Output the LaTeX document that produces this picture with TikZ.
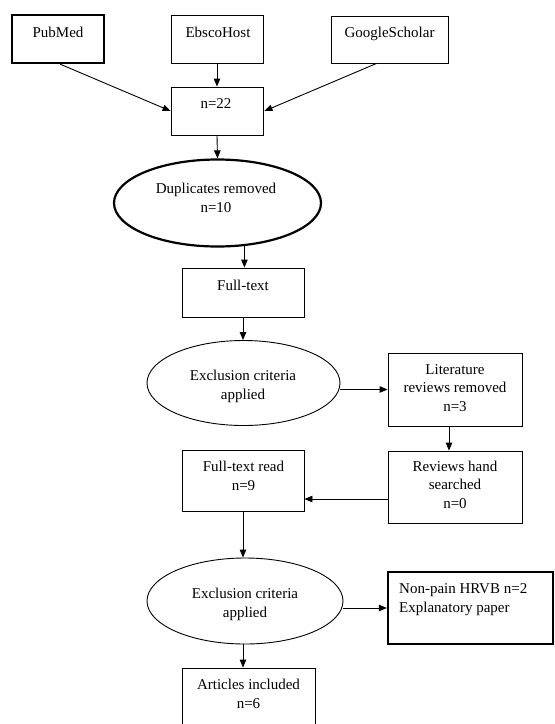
\documentclass[tikz,border=0pt]{standalone}
\usepackage{fontspec}
\setmainfont{Liberation Serif}
\usetikzlibrary{shapes.geometric,arrows.meta,calc}
\begin{document}
\begin{tikzpicture}[x=1pt,y=-1pt,
  every node/.style={font=\fontsize{15}{18.5}\selectfont},
  box/.style={draw=black,line width=0.9pt,rectangle,inner sep=0pt},
  thickbox/.style={box,line width=2.2pt},
  oval/.style={draw=black,line width=0.9pt,ellipse,inner sep=0pt},
  thickoval/.style={oval,line width=2.2pt},
  txt/.style={anchor=base,align=center,inner sep=0pt},
  arr/.style={line width=0.9pt,-{Triangle[length=8pt,width=6.5pt]}}]
\useasboundingbox (0,0) rectangle (555,724);
\clip (0,0) rectangle (555,724);
% boxes
\node[thickbox,minimum width=92pt,minimum height=48pt] (pm) at (58,39) {};
\node[box,minimum width=92pt,minimum height=48pt] (eb) at (217,39) {};
\node[box,minimum width=117pt,minimum height=47pt] (gs) at (389.5,39.5) {};
\node[box,minimum width=92pt,minimum height=48pt] (n22) at (217,111) {};
\node[thickoval,minimum width=207pt,minimum height=87pt] (dup) at (217.5,203) {};
\node[box,minimum width=122pt,minimum height=49pt] (ft) at (243,292.5) {};
\node[oval,minimum width=193pt,minimum height=85pt] (ex1) at (243.5,383) {};
\node[box,minimum width=134pt,minimum height=73pt] (lit) at (455,389.5) {};
\node[box,minimum width=134pt,minimum height=72pt] (rev) at (455,487) {};
\node[box,minimum width=122pt,minimum height=61pt] (ftr) at (243,480.5) {};
\node[oval,minimum width=196pt,minimum height=86pt] (ex2) at (245,601) {};
\node[thickbox,minimum width=165pt,minimum height=72pt] (np) at (470.5,608) {};
\node[box,minimum width=133pt,minimum height=76pt] (art) at (248.5,706) {};
% texts (anchored at the baseline of the last line)
\node[txt] (tpm) at (58,37) {PubMed};
\node[txt] (teb) at (218,37) {EbscoHost};
\node[txt] (tgs) at (389.5,37) {GoogleScholar};
\node[txt] (tn22) at (216,108) {n=22};
\node[txt] (tdup) at (216,212) {Duplicates removed\\n=10};
\node[txt] (tft) at (243,290) {Full-text};
\node[txt] (tex1) at (243,399) {Exclusion criteria\\applied};
\node[txt] (tlit) at (455,411) {Literature\\reviews removed\\n=3};
\node[txt] (trev) at (455,508) {Reviews hand\\searched\\n=0};
\node[txt] (tftr) at (243.5,490) {Full-text read\\n=9};
\node[txt] (tex2) at (245,617) {Exclusion criteria\\applied};
\node[txt,align=left,anchor=base west] (tnp) at (399,612) {Non-pain HRVB n=2\\Explanatory paper};
\node[txt] (tart) at (248.5,708) {Articles included\\n=6};
% connectors
\draw[arr] ([xshift=2pt]pm.south) -- (n22.west);
\draw[arr] (eb.south) -- (n22.north);
\draw[arr] ([xshift=-13pt]gs.south) -- ([xshift=1pt]n22.east);
\draw[arr] (n22.south) -- (dup.north);
\draw[arr] (dup.-58) -- (dup.-58 |- ft.north);
\draw[arr] (ft.south) -- (ft.south |- ex1.north);
\draw[arr] (ex1.east |- lit.west) -- (lit.west);
\draw[arr] ([xshift=-6pt]lit.south) -- ([xshift=-6pt]rev.north);
\draw[arr] ([yshift=-12pt]rev.west) -- ([yshift=-12pt]rev.west -| ftr.east);
\draw[arr] (ftr.south) -- (ftr.south |- ex2.north);
\draw[arr] (ex2.east |- np.west) -- (np.west);
\draw[arr] ([xshift=-2pt]ex2.south) -- ([xshift=-2pt]ex2.south |- art.north);
\end{tikzpicture}
\end{document}
